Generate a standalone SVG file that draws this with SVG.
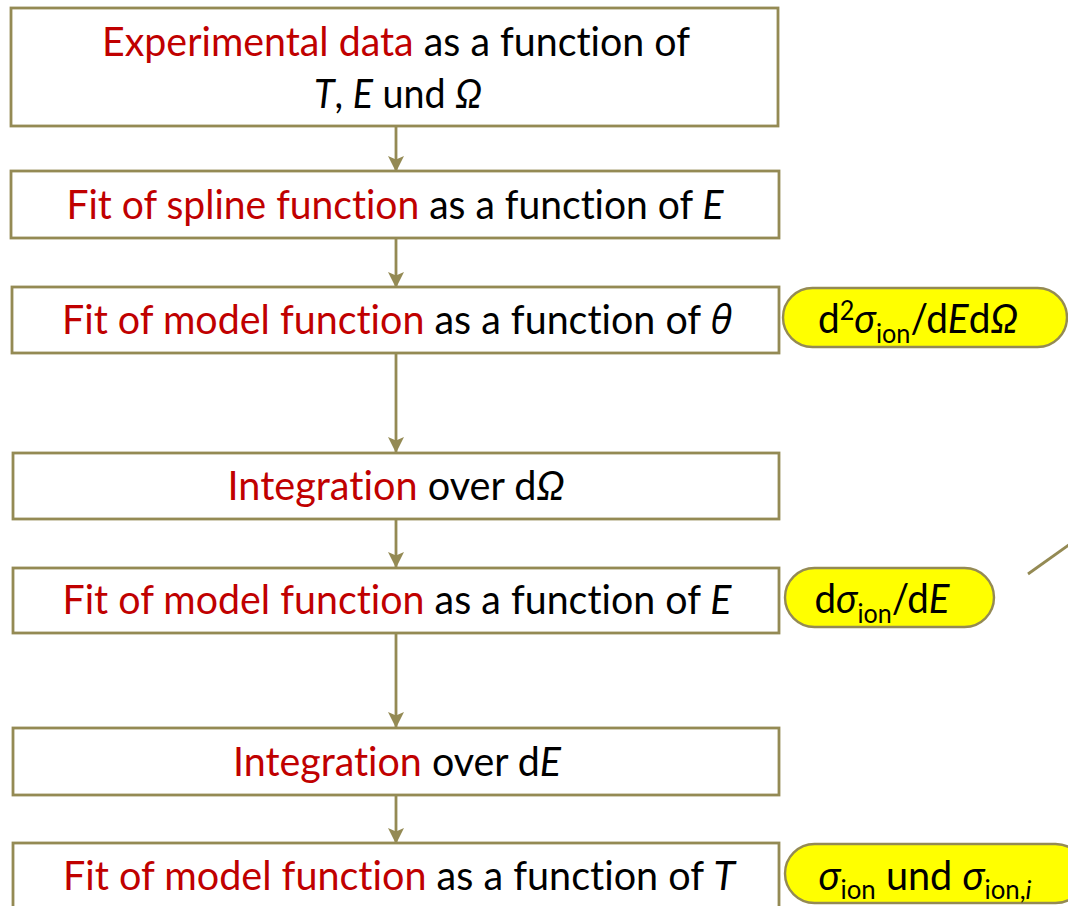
<svg xmlns="http://www.w3.org/2000/svg" width="1068" height="906" viewBox="0 0 1068 906">
<style>
.box{fill:#fff;stroke:#948A54;stroke-width:2.8}
.pill{fill:#FFFF00;stroke:#948A54;stroke-width:2.4}
.t{font-family:Lato,"Liberation Sans",sans-serif;font-size:40px;fill:#000;text-anchor:middle;font-variant-ligatures:none}
.r{fill:#C00000}
.i{font-style:italic}
.g{font-family:"Open Sans","Liberation Sans",sans-serif;font-style:italic}
.s{font-size:26px}
.conn{stroke:#948A54;stroke-width:2.8;fill:none;marker-end:url(#ah)}
</style>
<defs>
<marker id="ah" markerUnits="userSpaceOnUse" markerWidth="17" markerHeight="17" refX="15" refY="8.5" orient="auto" viewBox="0 0 17 17">
<path d="M0,0.5 L16,8.5 L0,16.5 L3.5,8.5 Z" fill="#948A54"/>
</marker>
</defs>
<rect width="1068" height="906" fill="#fff"/>
<g id="connectors">
<line class="conn" x1="396" y1="126" x2="396" y2="171"/>
<line class="conn" x1="396" y1="238" x2="396" y2="287"/>
<line class="conn" x1="396" y1="353" x2="396" y2="452"/>
<line class="conn" x1="396" y1="519" x2="396" y2="567"/>
<line class="conn" x1="396" y1="633" x2="396" y2="727"/>
<line class="conn" x1="396" y1="795" x2="396" y2="843"/>
<line x1="1028" y1="574" x2="1070" y2="544" stroke="#948A54" stroke-width="2.8"/>
</g>
<g id="n1">
<rect class="box" x="11" y="8" width="767" height="118"/>
<text class="t" x="396" y="56" textLength="588" lengthAdjust="spacingAndGlyphs"><tspan class="r">Experimental data</tspan> as a function of</text>
<text class="t" x="398" y="108" textLength="168" lengthAdjust="spacingAndGlyphs"><tspan class="i">T</tspan>, <tspan class="i">E</tspan> und <tspan class="i">Ω</tspan></text>
</g>
<g id="n2">
<rect class="box" x="11" y="171" width="768" height="67"/>
<text class="t" x="395" y="219" textLength="657" lengthAdjust="spacingAndGlyphs"><tspan class="r">Fit of spline function</tspan> as a function of <tspan class="i">E</tspan></text>
</g>
<g id="n3">
<rect class="box" x="12" y="287" width="767" height="66"/>
<text class="t" x="397" y="334" textLength="670" lengthAdjust="spacingAndGlyphs"><tspan class="r">Fit of model function</tspan> as a function of <tspan class="g">θ</tspan></text>
</g>
<g id="n4">
<rect class="box" x="13" y="453" width="766" height="66"/>
<text class="t" x="396" y="500" textLength="337" lengthAdjust="spacingAndGlyphs"><tspan class="r">Integration</tspan> over d<tspan class="i">Ω</tspan></text>
</g>
<g id="n5">
<rect class="box" x="13" y="568" width="766" height="65"/>
<text class="t" x="397" y="614" textLength="669" lengthAdjust="spacingAndGlyphs"><tspan class="r">Fit of model function</tspan> as a function of <tspan class="i">E</tspan></text>
</g>
<g id="n6">
<rect class="box" x="13" y="728" width="766" height="67"/>
<text class="t" x="397" y="776" textLength="328" lengthAdjust="spacingAndGlyphs"><tspan class="r">Integration</tspan> over d<tspan class="i">E</tspan></text>
</g>
<g id="n7">
<rect class="box" x="13" y="843" width="766" height="80"/>
<text class="t" x="399" y="890" textLength="672" lengthAdjust="spacingAndGlyphs"><tspan class="r">Fit of model function</tspan> as a function of <tspan class="i">T</tspan></text>
</g>
<g id="p1">
<rect class="pill" x="783" y="288" width="284" height="59" rx="29.5"/>
<text class="t" x="918" y="333" textLength="200" lengthAdjust="spacingAndGlyphs">d<tspan class="s" dy="-13">2</tspan><tspan class="i" dy="13">σ</tspan><tspan class="s" dy="10">ion</tspan><tspan dy="-10">/d</tspan><tspan class="i">E</tspan>d<tspan class="i">Ω</tspan></text>
</g>
<g id="p2">
<rect class="pill" x="785" y="568" width="209" height="59" rx="29.5"/>
<text class="t" x="882" y="613" textLength="135" lengthAdjust="spacingAndGlyphs">d<tspan class="i">σ</tspan><tspan class="s" dy="10">ion</tspan><tspan dy="-10">/d</tspan><tspan class="i">E</tspan></text>
</g>
<g id="p3">
<rect class="pill" x="785" y="844" width="300" height="59" rx="29.5"/>
<text class="t" x="925" y="890" textLength="213" lengthAdjust="spacingAndGlyphs"><tspan class="i">σ</tspan><tspan class="s" dy="9">ion</tspan><tspan dy="-9"> und </tspan><tspan class="i">σ</tspan><tspan class="s" dy="9">ion,</tspan><tspan class="s i">i</tspan></text>
</g>
</svg>
